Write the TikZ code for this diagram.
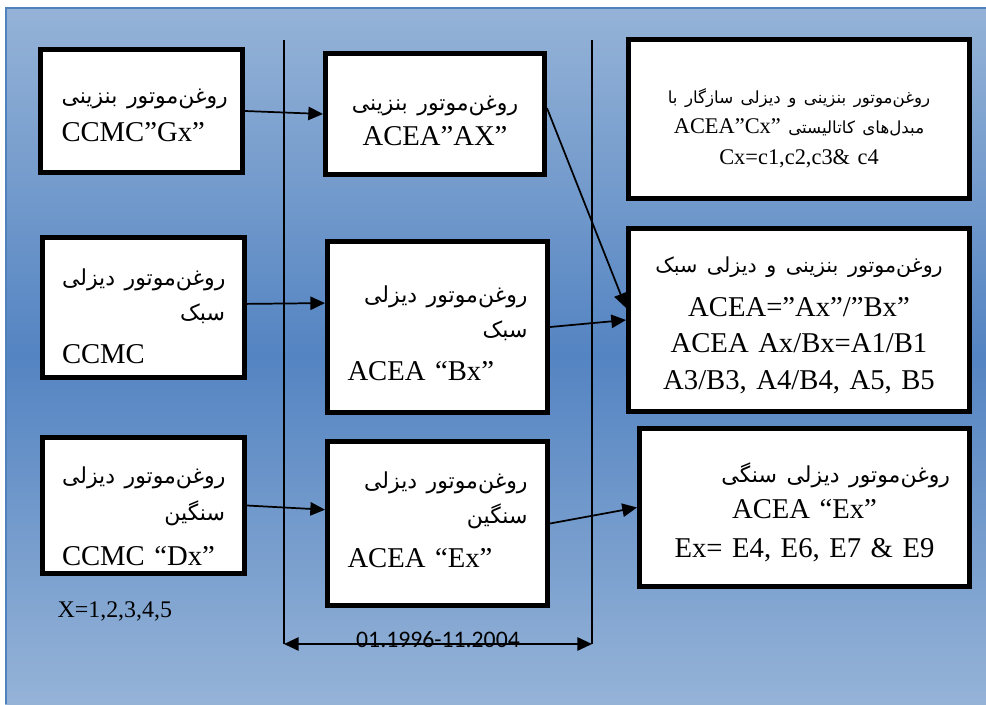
\documentclass[tikz,border=0pt]{standalone}
\usepackage{fontspec}
\setmainfont{Liberation Serif}
\newfontfamily\persian[Script=Arabic]{DejaVu Sans}
\newfontfamily\datefont{Carlito}
\TeXXeTstate=1
\usepackage{tikz}
\usetikzlibrary{arrows.meta}

\definecolor{bgedge}{RGB}{149,179,215}
\definecolor{bgmid}{RGB}{84,132,194}
\definecolor{bgline}{RGB}{79,129,189}

\newcommand{\boxfont}{\fontsize{21.5pt}{0pt}\selectfont\lineskiplimit=-\maxdimen}
\newcommand{\smallboxfont}{\fontsize{16.8pt}{0pt}\selectfont\lineskiplimit=-\maxdimen}
\newcommand{\periodfont}{\fontsize{17.8pt}{20pt}\datefont}
\newcommand{\notefont}{\fontsize{17.9pt}{20pt}\selectfont}
\newcommand{\fa}[2][16.5pt]{\mbox{\fontsize{#1}{0pt}\persian\beginR #2\endR}}
\newcommand{\toright}{\hspace*{\fill}}
\newcommand{\toleft}{\hspace*{\fill}\mbox{}}

\begin{document}
\begin{tikzpicture}[x=0.75pt, y=-0.75pt,
  oilbox/.style={draw, line width=3.75pt, fill=white, inner sep=0pt,
    align=center, text height=0pt, font=\boxfont},
  link/.style={line width=1.3pt, -{Triangle[length=11pt, width=10pt]}},
  spanline/.style={line width=1.3pt,
    {Triangle[length=11pt, width=10pt]}-{Triangle[length=11pt, width=10pt]}}]
\useasboundingbox (0,0) rectangle (986,704);

%background
\fill[top color=bgedge, bottom color=bgedge, middle color=bgmid] (5,7) rectangle (986,704);
\draw[bgline, line width=1.5pt] (6,704) -- (6,8) -- (986,8);

%period lines
\coordinate (lt) at (284,40);
\coordinate (lb) at (284,644);
\coordinate (rt) at (592,40);
\coordinate (rb) at (592,644);
\draw[line width=1.3pt] (lt) -- (lb);
\draw[line width=1.3pt] (rt) -- (rb);

%CCMC column
\node [oilbox, minimum width=151.5pt, minimum height=92.25pt, text width=120pt, text depth=12pt]
  (ccmcg) at (141.5,111) {\toright\fa{روغن‌موتور بنزینی}\\[28.5pt] CCMC”Gx”\toleft};
\node [oilbox, minimum width=151.5pt, minimum height=105pt, text width=122.25pt, text depth=33.75pt]
  (ccmclight) at (143.5,307.5) {\toright\fa{روغن‌موتور دیزلی}\\[26.25pt] \toright\fa{سبک}\\[32.25pt] CCMC\toleft};
\node [oilbox, minimum width=151.5pt, minimum height=102pt, text width=122.25pt, text depth=33.75pt]
  (ccmcheavy) at (143.5,505.5) {\toright\fa{روغن‌موتور دیزلی}\\[27.75pt] \toright\fa{سنگین}\\[33.75pt] CCMC “Dx”\toleft};

%ACEA 1996 column
\node [oilbox, minimum width=164.25pt, minimum height=90.75pt, text width=142.5pt, text depth=6pt]
  (aceaa) at (435,114) {\fa{روغن‌موتور بنزینی}\\[26.25pt] ACEA”AX”};
\node [oilbox, minimum width=165pt, minimum height=128.25pt, text width=135pt, text depth=37.5pt]
  (aceab) at (437.5,327) {\toright\fa{روغن‌موتور دیزلی}\\[26.25pt] \toright\fa{سبک}\\[32.25pt] ACEA “Bx”\toleft};
\node [oilbox, minimum width=165pt, minimum height=123pt, text width=135pt, text depth=53.25pt]
  (aceae) at (437.5,523.5) {\toright\fa{روغن‌موتور دیزلی}\\[26.25pt] \toright\fa{سنگین}\\[33pt] ACEA “Ex”\toleft};

%ACEA 2004 column
\node [oilbox, font=\smallboxfont, minimum width=255.75pt, minimum height=119.25pt, text width=247.5pt, text depth=24pt]
  (aceac) at (799,119) {\fa[12.5pt]{روغن‌موتور بنزینی و دیزلی سازگار با}\\[22.5pt]
  ACEA”Cx” \fa[12.5pt]{مبدل‌های کاتالیستی}\\[23.25pt] Cx=c1,c2,c3\& c4};
\node [oilbox, minimum width=255.75pt, minimum height=137.25pt, text width=247.5pt, text depth=72pt]
  (aceaab) at (799,320) {\fa[15.5pt]{روغن‌موتور بنزینی و دیزلی سبک}\\[33pt] ACEA=”Ax”/”Bx”\\[27pt]
  ACEA Ax/Bx=A1/B1\\[27.75pt] A3/B3, A4/B4, A5, B5};
\node [oilbox, minimum width=247.5pt, minimum height=118.5pt, text width=218.25pt, text depth=38.25pt]
  (aceaex) at (804.5,507.5) {\toright\fa{روغن‌موتور دیزلی سنگی}\\[27pt] ACEA “Ex”\\[29.25pt] Ex= E4, E6, E7 \& E9};

%connectors
\draw[link] (ccmcg.east) -- (aceaa.west);
\draw[link] (ccmclight.2.5) -- (aceab.168.4);
\draw[link] (ccmcheavy.east) -- (aceae.173);
\draw[link] (aceaa.3) -- (aceaab.176.6);
\draw[link] (aceab.east) -- (aceaab.west);
\draw[link] (aceae.east) -- (aceaex.west);

%period and note
\draw[spanline] (lb) -- (rb) node [midway, anchor=base, yshift=-2.25pt, font=\periodfont] (period) {01.1996-11.2004};
\node [anchor=base west, font=\notefont] (xrange) at (53,617) {X=1,2,3,4,5};

\end{tikzpicture}
\end{document}
